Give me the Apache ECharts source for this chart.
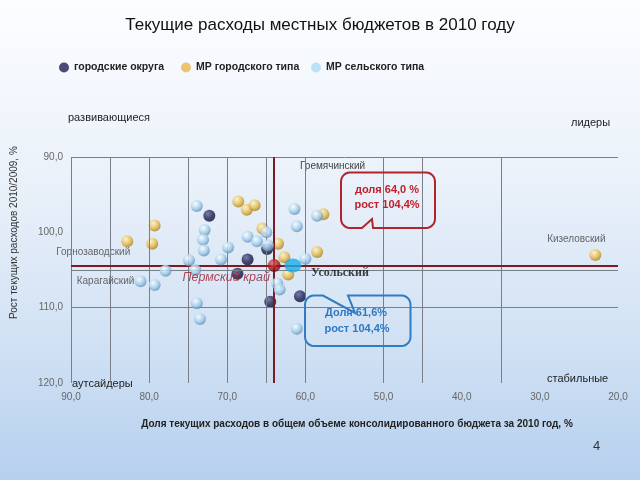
<!DOCTYPE html>
<html>
<head>
<meta charset="utf-8">
<script src="https://cdn.jsdelivr.net/npm/echarts@6/dist/echarts.min.js"></script>
<style>
html,body{margin:0;padding:0;width:640px;height:480px;overflow:hidden;}
#c{width:640px;height:480px;}
</style>
</head>
<body>
<div id="c"></div>
<script>
// ---- DATA ----
const titleText = 'Текущие расходы местных бюджетов в 2010 году';
const seriesNames = ['городские округа', 'МР городского типа', 'МР сельского типа'];
const xAxisTitle = 'Доля текущих расходов в общем объеме консолидированного бюджета за 2010 год, %';
const yAxisTitle = 'Рост текущих расходов 2010/2009, %';
const quadrantNames = ['развивающиеся', 'лидеры', 'аутсайдеры', 'стабильные'];

// [доля %, рост %]
const cityDistricts = [[72.3,97.8],[67.4,103.6],[68.7,105.5],[64.9,102.2],[60.7,108.5],[64.5,109.2]];
const urbanMR = [[79.3,99.1],[82.8,101.2],[79.6,101.5],[68.6,95.9],[67.5,97.0],[66.5,96.4],[65.5,99.5],[63.5,101.5],[62.7,103.3],[62.2,105.6],[58.5,102.6],[57.7,97.6],[22.9,103.0]];
const ruralMR = [[73.9,96.5],[61.4,96.9],[58.5,97.8],[61.1,99.2],[72.9,99.7],[73.1,101.0],[73.0,102.4],[69.9,102.0],[67.4,100.6],[66.2,101.2],[65.0,100.0],[64.8,101.7],[60.0,103.5],[74.9,103.7],[70.8,103.6],[77.9,105.1],[74.1,105.0],[81.1,106.5],[79.3,107.0],[63.6,106.8],[63.3,107.6],[73.9,109.4],[73.5,111.5],[61.1,112.8]];
const permKrai = [64.0, 104.4];
const usolsky = [61.6, 104.4];
const urbanNames = {1: 'Горнозаводский', 12: 'Кизеловский'};
const ruralNames = {17: 'Карагайский'};
const gremName = 'Гремячинский';
const calloutRed = ['доля 64,0 %', 'рост 104,4%'];
const calloutBlue = ['Доля 61,6%', 'рост 104,4%'];
const xTicks = {min: 20, max: 90, interval: 10};
const yTicks = {min: 90, max: 120, interval: 10};
const vGridValues = [90, 85, 80, 75, 70, 65, 60, 50, 45, 35];
const hGridValues = [90, 105, 110];
const pageNo = '4';

// ---- STYLE ----
const FONT = '"Liberation Sans", Arial, sans-serif';
function ball(c0, c1, c2) {
  return {type: 'radial', x: 0.38, y: 0.32, r: 0.75,
    colorStops: [{offset: 0, color: c0}, {offset: 0.55, color: c1}, {offset: 1, color: c2}]};
}
const fmt = v => v.toFixed(1).replace('.', ',');
const labelOffsets = {
  'Горнозаводский': [-34, 11],
  'Кизеловский': [-19, -16],
  'Карагайский': [-35, 0]
};
function named(arr, names) {
  return arr.map((p, i) => {
    if (names[i] === undefined) return p;
    const n = names[i];
    return {value: p, name: n, label: {show: true, position: 'inside', offset: labelOffsets[n],
      formatter: n, color: '#444', fontSize: 10, fontFamily: FONT}};
  });
}

function calloutPts(x0, y0, x1, y1, r, topNotch, bottomNotch) {
  const pts = [];
  function arc(cx, cy, a0, a1) {
    for (let i = 0; i <= 6; i++) {
      const a = (a0 + (a1 - a0) * i / 6) * Math.PI / 180;
      pts.push([cx + r * Math.cos(a), cy + r * Math.sin(a)]);
    }
  }
  pts.push([x0 + r, y0]);
  (topNotch || []).forEach(p => pts.push(p));
  arc(x1 - r, y0 + r, -90, 0);
  arc(x1 - r, y1 - r, 0, 90);
  (bottomNotch || []).forEach(p => pts.push(p));
  arc(x0 + r, y1 - r, 90, 180);
  arc(x0 + r, y0 + r, 180, 270);
  return pts;
}

const chart = echarts.init(document.getElementById('c'), null, {renderer: 'canvas'});
const gridLineStyle = {color: '#7a7e88', width: 1, type: 'solid'};
const legendText = {fontSize: 10.5, fontWeight: 'bold', color: '#222', fontFamily: FONT};

const option = {
  animation: false,
  backgroundColor: {type: 'linear', x: 0, y: 0, x2: 0, y2: 1,
    colorStops: [{offset: 0, color: '#fcfdff'}, {offset: 0.35, color: '#ecf2fa'}, {offset: 0.7, color: '#d2e2f4'}, {offset: 1, color: '#b6d0ee'}]},
  textStyle: {fontFamily: FONT},
  title: {text: titleText, left: 'center', top: 12,
    textStyle: {fontSize: 17, fontWeight: 'normal', color: '#111', fontFamily: FONT}},
  legend: [
    {left: 54, top: 57, itemWidth: 10, itemHeight: 10, icon: 'circle', selectedMode: false,
      data: [{name: seriesNames[0], itemStyle: {color: '#1d2052'}}], textStyle: legendText},
    {left: 176, top: 57, itemWidth: 10, itemHeight: 10, icon: 'circle', selectedMode: false,
      data: [{name: seriesNames[1], itemStyle: {color: '#e8b54e'}}], textStyle: legendText},
    {left: 306, top: 57, itemWidth: 10, itemHeight: 10, icon: 'circle', selectedMode: false,
      data: [{name: seriesNames[2], itemStyle: {color: '#aadcf6'}}], textStyle: legendText}
  ],
  grid: {left: 71, right: 22, top: 157, bottom: 97, containLabel: false},
  xAxis: {type: 'value', min: xTicks.min, max: xTicks.max, interval: xTicks.interval, inverse: true,
    axisLine: {show: false}, axisTick: {show: false}, splitLine: {show: false},
    axisLabel: {color: '#666', fontSize: 10, margin: 9, formatter: fmt, fontFamily: FONT}},
  yAxis: {type: 'value', min: yTicks.min, max: yTicks.max, interval: yTicks.interval, inverse: true,
    axisLine: {show: false}, axisTick: {show: false}, splitLine: {show: false},
    axisLabel: {color: '#666', fontSize: 10, margin: 8, formatter: fmt, fontFamily: FONT}},
  series: [
    {type: 'scatter', name: 'grid', data: [], z: 1, silent: true,
      markLine: {silent: true, symbol: 'none', label: {show: false}, lineStyle: gridLineStyle, animation: false,
        data: vGridValues.map(v => ({xAxis: v})).concat(hGridValues.map(v => ({yAxis: v})))}},
    {type: 'scatter', name: 'cross', data: [], z: 2, silent: true,
      markLine: {silent: true, symbol: 'none', label: {show: false}, animation: false,
        lineStyle: {color: '#7b1b24', width: 2, type: 'solid'},
        data: [{xAxis: permKrai[0]}, {yAxis: permKrai[1]}]}},
    {type: 'scatter', name: seriesNames[0], data: cityDistricts, symbolSize: 12, z: 3,
      itemStyle: {color: ball('#5d6294', '#1a1e50', '#090b26')}},
    {type: 'scatter', name: seriesNames[1], data: named(urbanMR, urbanNames), symbolSize: 12, z: 4,
      itemStyle: {color: ball('#fff4c4', '#e6b84a', '#9a7318')}},
    {type: 'scatter', name: seriesNames[2], data: named(ruralMR, ruralNames), symbolSize: 12, z: 5,
      itemStyle: {color: ball('#ffffff', '#a2cdea', '#5783aa')}},
    {type: 'scatter', name: 'Пермский край', z: 6, symbolSize: 13,
      data: [{value: permKrai, label: {show: true, position: 'inside', offset: [-48, 12], formatter: 'Пермский край',
        color: '#a31c2c', fontSize: 12.5, fontStyle: 'italic', fontFamily: FONT}}],
      itemStyle: {color: ball('#e86060', '#a8161c', '#5c0608')}},
    {type: 'scatter', name: 'Усольский', z: 7, symbolSize: [17, 14],
      data: [{value: usolsky, label: {show: true, position: 'inside', offset: [47, 7], formatter: 'Усольский',
        color: '#111', fontSize: 12, fontWeight: 'bold', fontFamily: '"Liberation Serif", serif'}}],
      itemStyle: {color: '#1badea'}}
  ],
  graphic: [
    {type: 'text', x: 357, y: 419, style: {text: xAxisTitle, fill: '#222', font: 'bold 10px ' + FONT, textAlign: 'center'}},
    {type: 'text', x: 9, y: 319, rotation: Math.PI / 2, style: {text: yAxisTitle, fill: '#333', font: '10px ' + FONT}},
    {type: 'text', x: 68, y: 112, style: {text: quadrantNames[0], fill: '#222', font: '11px ' + FONT}},
    {type: 'text', x: 571, y: 117, style: {text: quadrantNames[1], fill: '#222', font: '11px ' + FONT}},
    {type: 'text', x: 72, y: 378, style: {text: quadrantNames[2], fill: '#222', font: '11px ' + FONT}},
    {type: 'text', x: 547, y: 373, style: {text: quadrantNames[3], fill: '#222', font: '11px ' + FONT}},
    {type: 'text', x: 300, y: 161, style: {text: gremName, fill: '#444', font: '10px ' + FONT}},
    {type: 'polygon', z: 10, shape: {points: calloutPts(341, 172.5, 435, 228, 9, null, [[373, 228], [372, 219], [362, 228]])},
      style: {fill: 'none', stroke: '#b0242c', lineWidth: 2}},
    {type: 'text', z: 11, x: 387, y: 184, style: {text: calloutRed[0], fill: '#c0202a', font: 'bold 11px ' + FONT, textAlign: 'center'}},
    {type: 'text', z: 11, x: 387, y: 199.5, style: {text: calloutRed[1], fill: '#c0202a', font: 'bold 11px ' + FONT, textAlign: 'center'}},
    {type: 'polygon', z: 10, shape: {points: calloutPts(305, 295.5, 410.5, 346, 9, [[323, 295.5], [355, 313], [348, 295.5]], null)},
      style: {fill: 'none', stroke: '#2f7cc3', lineWidth: 2}},
    {type: 'text', z: 11, x: 356, y: 307, style: {text: calloutBlue[0], fill: '#2f78c2', font: 'bold 11px ' + FONT, textAlign: 'center'}},
    {type: 'text', z: 11, x: 357, y: 323.5, style: {text: calloutBlue[1], fill: '#2f78c2', font: 'bold 11px ' + FONT, textAlign: 'center'}},
    {type: 'text', x: 593, y: 440, style: {text: pageNo, fill: '#333', font: '13px ' + FONT}}
  ]
};
chart.setOption(option);
</script>
</body>
</html>
